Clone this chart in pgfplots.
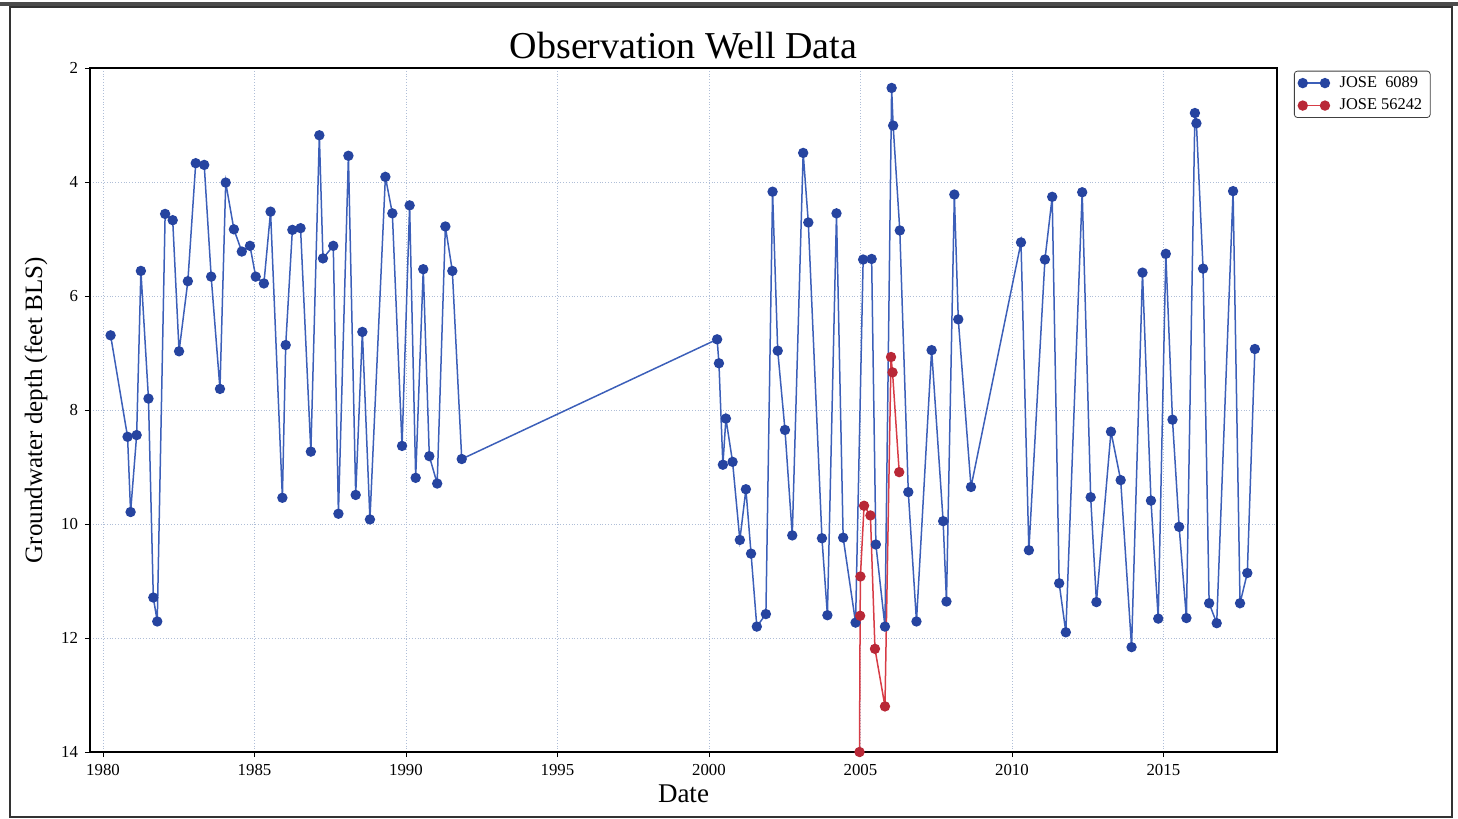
\documentclass[border=0pt]{standalone}
\usepackage{fontspec}
\setmainfont{Liberation Serif}
\usepackage{pgfplots}
\pgfplotsset{compat=1.18}
\definecolor{wblue}{RGB}{38,68,160}
\definecolor{wbluel}{RGB}{60,95,185}
\definecolor{wred}{RGB}{185,40,55}
\definecolor{wredl}{RGB}{215,60,70}
\definecolor{gridc}{RGB}{175,190,215}
\begin{document}
\begin{tikzpicture}
\path[use as bounding box] (-45pt,-33.5pt) rectangle (684pt,376pt);
\draw[line width=1.1pt, black!80] (-40pt,-32.5pt) rectangle (681pt,372.5pt);
\draw[line width=1.6pt, black!70] (-45pt,374pt) -- (684pt,374pt);
\begin{axis}[
 at={(0,0)}, anchor=south west,
 scale only axis, width=593.5pt, height=342pt,
 xmin=1979.57, xmax=2018.75, ymin=2, ymax=14, y dir=reverse,
 xtick={1980,1985,...,2015}, ytick={2,4,...,14},
 /pgf/number format/1000 sep={}, /pgf/number format/assume math mode=true,
 tick label style={font=\fontsize{8.4}{10}\selectfont},
 grid=major, major grid style={gridc, line width=0.4pt, densely dotted},
 title={Observation Well Data},
 title style={font=\fontsize{19}{22}\selectfont, yshift=-5pt},
 xlabel={Date}, ylabel={Groundwater depth (feet BLS)},
 xlabel style={font=\fontsize{13.5}{16}\selectfont, yshift=2pt},
 ylabel style={font=\fontsize{12.5}{15}\selectfont},
 axis line style={black, line width=0.6pt},
 tick style={black, line width=0.4pt}, major tick length=2.5pt, tick align=outside,
 xtick pos=bottom, ytick pos=left,
 legend style={at={(1.0143,0.996)}, anchor=north west, font=\fontsize{8.2}{9}\selectfont,
   draw=black!75, rounded corners=1.5pt, inner xsep=2pt, inner ysep=0.5pt, row sep=0.3pt},
 legend cell align=left,
 legend image code/.code={\draw[mark repeat=1,mark phase=1,#1] plot coordinates {(0cm,0cm) (0.39cm,0cm)};
   \path (0.39cm+5pt,0cm);},
 every axis plot/.append style={line width=0.75pt},
]
\addplot[wbluel, mark=*, mark size=2.2pt, mark options={fill=wblue, draw=wblue}] coordinates {
(1980.25,6.69) (1980.81,8.47) (1980.91,9.79) (1981.11,8.44) (1981.25,5.56)
(1981.50,7.80) (1981.66,11.29) (1981.79,11.71) (1982.05,4.56) (1982.30,4.67)
(1982.51,6.97) (1982.80,5.74) (1983.06,3.67) (1983.34,3.70) (1983.57,5.66)
(1983.86,7.63) (1984.05,4.01) (1984.32,4.83) (1984.58,5.22) (1984.85,5.12)
(1985.04,5.66) (1985.31,5.78) (1985.53,4.52) (1985.92,9.54) (1986.03,6.86)
(1986.25,4.84) (1986.52,4.81) (1986.86,8.73) (1987.14,3.18) (1987.26,5.34)
(1987.60,5.12) (1987.77,9.82) (1988.10,3.54) (1988.34,9.49) (1988.56,6.63)
(1988.81,9.92) (1989.32,3.91) (1989.55,4.55) (1989.87,8.63) (1990.12,4.41)
(1990.32,9.19) (1990.57,5.53) (1990.77,8.81) (1991.03,9.29) (1991.30,4.78)
(1991.53,5.56) (1991.84,8.86)
(2000.27,6.76) (2000.33,7.18) (2000.46,8.96) (2000.56,8.15) (2000.78,8.91)
(2001.02,10.28) (2001.22,9.39) (2001.39,10.52) (2001.58,11.80) (2001.88,11.58)
(2002.10,4.17) (2002.27,6.96) (2002.51,8.35) (2002.75,10.20) (2003.11,3.49)
(2003.28,4.71) (2003.73,10.25) (2003.91,11.60) (2004.21,4.55) (2004.43,10.24)
(2004.84,11.73) (2005.09,5.36) (2005.37,5.35) (2005.51,10.36) (2005.81,11.80)
(2006.03,2.35) (2006.08,3.01) (2006.30,4.85) (2006.58,9.44) (2006.85,11.71)
(2007.35,6.95) (2007.73,9.95) (2007.84,11.36) (2008.10,4.22) (2008.23,6.41)
(2008.65,9.35) (2010.30,5.06) (2010.56,10.46) (2011.09,5.36) (2011.33,4.26)
(2011.56,11.04) (2011.78,11.90) (2012.32,4.18) (2012.60,9.53) (2012.79,11.37)
(2013.27,8.38) (2013.59,9.23) (2013.95,12.16) (2014.31,5.59) (2014.59,9.59)
(2014.83,11.66) (2015.08,5.26) (2015.30,8.17) (2015.52,10.05) (2015.76,11.65)
(2016.04,2.79) (2016.09,2.97) (2016.31,5.52) (2016.51,11.39) (2016.76,11.74)
(2017.30,4.16) (2017.53,11.39) (2017.77,10.86) (2018.02,6.93)
};
\addlegendentry{JOSE\ \ 6089}
\addplot[wredl, mark=*, mark size=2.2pt, mark options={fill=wred, draw=wred}] coordinates {
(2004.97,14.0) (2004.99,11.61) (2005.00,10.92) (2005.12,9.68) (2005.33,9.85)
(2005.48,12.19) (2005.81,13.20) (2006.01,7.07) (2006.06,7.34) (2006.28,9.09)
};
\addlegendentry{JOSE 56242}
\end{axis}
\end{tikzpicture}
\end{document}
